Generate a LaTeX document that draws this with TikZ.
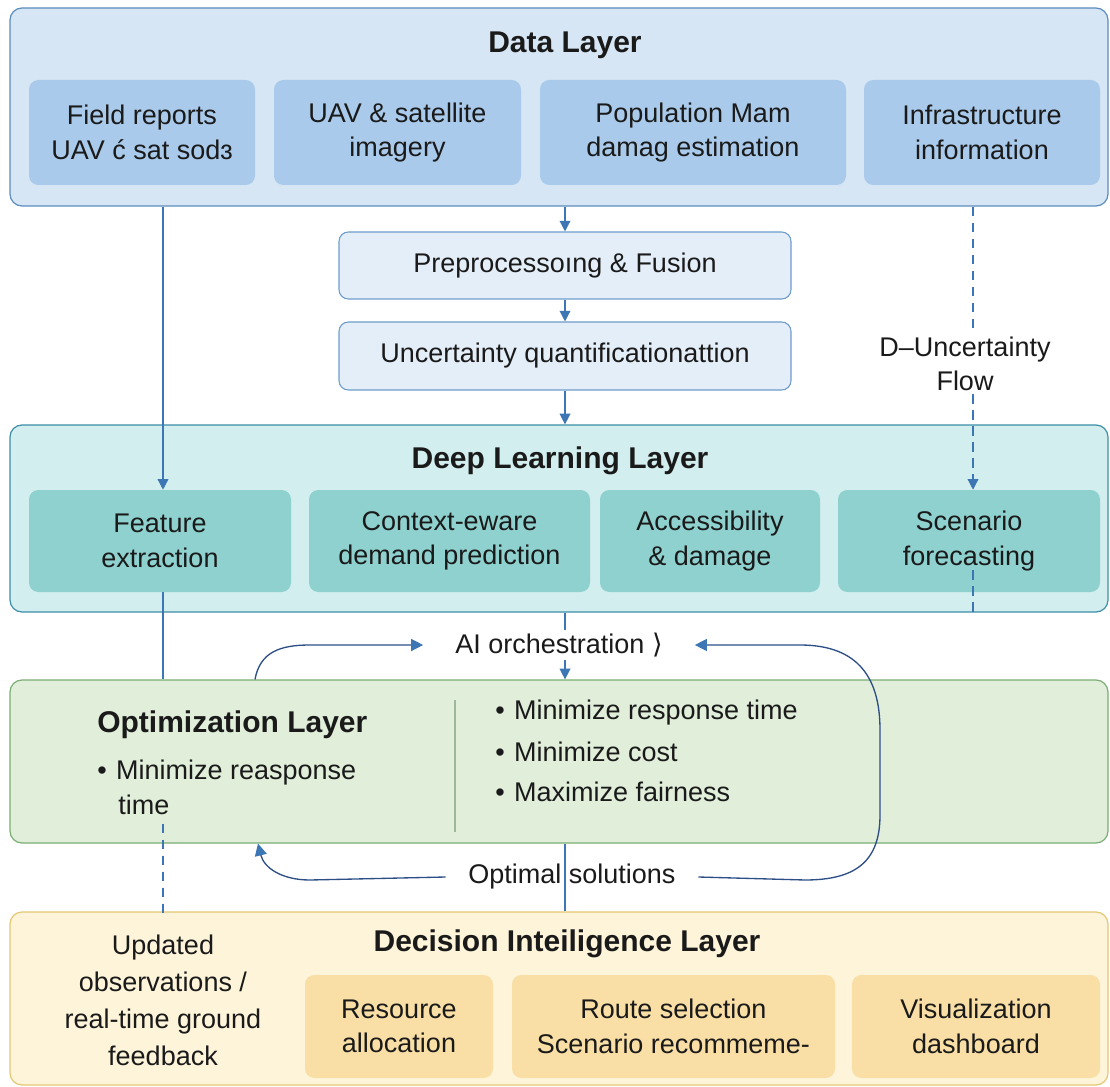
\documentclass[tikz,border=0pt]{standalone}
\usepackage{fontspec}
\setmainfont{Liberation Sans}
\newfontfamily\dvs{DejaVu Sans}
\usetikzlibrary{arrows.meta}
\definecolor{dfill}{HTML}{D6E6F4}
\definecolor{dborder}{HTML}{5A8CBE}
\definecolor{dinner}{HTML}{A9CAEA}
\definecolor{pfill}{HTML}{E4EEF9}
\definecolor{pborder}{HTML}{6E9CCB}
\definecolor{lfill}{HTML}{D3EEEF}
\definecolor{lborder}{HTML}{3D8EA8}
\definecolor{linner}{HTML}{8ED1CF}
\definecolor{ofill}{HTML}{E0EEDA}
\definecolor{oborder}{HTML}{7AAE73}
\definecolor{yfill}{HTML}{FDF4D9}
\definecolor{yborder}{HTML}{E5C873}
\definecolor{yinner}{HTML}{F9DFA5}
\definecolor{arrowblue}{HTML}{3C76B4}
\definecolor{curvec}{HTML}{2E4F86}
\definecolor{divc}{HTML}{9DB89A}
\definecolor{txt}{HTML}{1A1A1A}
\newcommand\bodyfont{\fontsize{20.25}{26}\selectfont}
\newcommand\titlefont{\fontsize{22.5}{27}\selectfont\bfseries}
\begin{document}
\begin{tikzpicture}[x=0.75pt,y=-0.75pt,
  wh/.style 2 args={minimum width=#1*0.75pt, minimum height=#2*0.75pt},
  layer/.style={draw, rounded corners=9pt, line width=0.9pt, inner sep=0pt},
  ibox/.style={rounded corners=7pt, inner sep=0pt, align=center, font=\bodyfont, text=txt},
  ttl/.style={font=\titlefont, text=txt, inner sep=0pt},
  plain/.style={font=\bodyfont, text=txt, inner sep=2pt},
  bul/.style={font=\bodyfont, text=txt, inner sep=0pt, anchor=west, text height=0.72em, text depth=0.2em},
  ln/.style={draw=arrowblue, line width=1pt},
  arr/.style={ln, -{Triangle[width=8pt,length=8pt]}},
  dsh/.style={ln, dash pattern=on 7pt off 5pt},
  crv/.style={draw=curvec, line width=1pt},
  tipc/.style={-{Triangle[width=9pt,length=9pt,color=arrowblue]}}
]
\useasboundingbox (0,0) rectangle (1110,1087);
\fill[white] (0,0) rectangle (1110,1087);
\coordinate (xl) at (163,0);
\coordinate (xr) at (973,0);
\coordinate (xm) at (565,0);
\coordinate (xc1) at (255,0);
\coordinate (xc2) at (258,0);

% Data layer
\node[layer, fill=dfill, draw=dborder, wh={1098}{198}] (data) at (559,107) {};
\node[ttl] (dtitle) at (565,45) {Data Layer};
\node[ibox, fill=dinner, wh={226}{105}] (d1) at (142,132.5) {Field reports\\UAV ć sat sodɜ};
\node[ibox, fill=dinner, wh={247}{105}] (d2) at (397.5,132.5) {UAV \& satellite\\imagery};
\node[ibox, fill=dinner, wh={306}{105}] (d3) at (693,132.5) {Population Mam\\damag estimation};
\node[ibox, fill=dinner, wh={236}{105}] (d4) at (982,132.5) {Infrastructure\\information};

% Preprocessing
\node[ibox, fill=pfill, draw=pborder, line width=0.8pt, wh={452}{67}] (pre) at (565,265.5) {Preprocessoıng \& Fusion};
\node[ibox, fill=pfill, draw=pborder, line width=0.8pt, wh={452}{68}] (unc) at (565,356) {Uncertainty quantificationattion};
\node[plain, align=center] (uflow) at (965,364) {D–Uncertainty\\Flow};

% Deep learning layer
\node[layer, fill=lfill, draw=lborder, wh={1098}{187}] (dl) at (559,518.5) {};
\node[ttl] (ltitle) at (560,461) {Deep Learning Layer};
\node[ibox, fill=linner, wh={262}{102}] (l1) at (160,541) {Feature\\extraction};
\node[ibox, fill=linner, wh={281}{102}] (l2) at (449.5,541) {Context-eware\\demand prediction};
\node[ibox, fill=linner, wh={220}{102}] (l3) at (710,541) {Accessibility\\\& damage};
\node[ibox, fill=linner, wh={262}{102}] (l4) at (969,541) {Scenario\\forecasting};

% AI orchestration
\node[plain, inner xsep=24pt] (ai) at (559,645) {AI orchestration {\dvs ⟩}};

% Optimization layer
\node[layer, fill=ofill, draw=oborder, wh={1098}{163}] (opt) at (559,761.5) {};
\node[ttl, anchor=west] (otitle) at (97,725) {Optimization Layer};
\node[bul] (ob1) at (97,776) {•\hspace{0.35em}Minimize reasponse};
\node[bul] (ob2) at (118,811) {time};
\node[bul] (ob3) at (495,716) {•\hspace{0.35em}Minimize response time};
\node[bul] (ob4) at (495,758) {•\hspace{0.35em}Minimize cost};
\node[bul] (ob5) at (495,798) {•\hspace{0.35em}Maximize fairness};
\draw[divc, line width=0.8pt] (455,700) -- (455,832);

\node[plain, inner xsep=17pt] (optl) at (572,877) {Optimal solutions};

% Decision layer
\node[layer, fill=yfill, draw=yborder, wh={1098}{173}] (dec) at (559,998.5) {};
\node[ttl] (ytitle) at (567,944) {Decision Inteiligence Layer};
\node[plain, align=center, font=\fontsize{20.25}{27.75}\selectfont] (fb) at (163,1000) {Updated\\observations /\\real-time ground\\feedback};
\node[ibox, fill=yinner, wh={188}{103}] (r1) at (399,1026.5) {Resource\\allocation};
\node[ibox, fill=yinner, wh={323}{103}] (r2) at (673.5,1026.5) {Route selection\\Scenario recommeme-};
\node[ibox, fill=yinner, wh={248}{103}] (r3) at (976,1026.5) {Visualization\\dashboard};

% connectors
\draw[arr] (pre.north |- data.south) -- (pre.north);
\draw[arr] (pre.south) -- (unc.north);
\draw[arr] (unc.south) -- (unc.south |- dl.north);
\draw[arr] (data.south -| xl) -- (l1.north -| xl);
\draw[dsh] (data.south -| xr) -- (uflow.north -| xr);
\draw[dsh, -{Triangle[width=8pt,length=8pt]}] (uflow.south -| xr) -- (l4.north -| xr);
\draw[dsh] (l4.south -| xr) ++(0,-22) -- (dl.south -| xr);
\draw[ln] (l1.south -| xl) -- (opt.north -| xl);
\draw[dsh] (opt.south -| xl) ++(0,-20) -- (dec.north -| xl) -- ++(0,8);
\draw[ln] (dl.south -| xm) -- (ai.north -| xm);
\draw[arr] (ai.south -| xm) -- (opt.north -| xm);
\draw[ln] (opt.south -| xm) -- (dec.north -| xm);

% curved loop
\draw[crv, tipc] (opt.north -| xc1) .. controls (260,652) and (280,645) .. (310,645) -- (ai.west);
\draw[crv, tipc] (optl.east) -- (805,880) .. controls (855,880) and (880,862) .. (880,815) -- (880,730) .. controls (880,680) and (860,645) .. (800,645) -- (ai.east);
\draw[crv, tipc] (optl.west) -- (310,880) .. controls (282,880) and (264,868) .. (opt.south -| xc2);
\end{tikzpicture}
\end{document}
